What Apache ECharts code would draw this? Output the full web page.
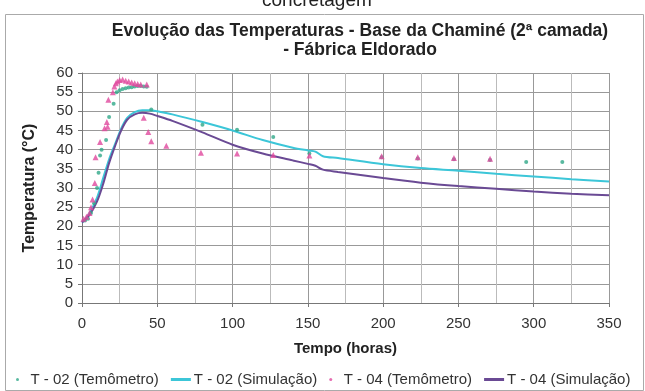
<!DOCTYPE html>
<html>
<head>
<meta charset="utf-8">
<script src="https://cdn.jsdelivr.net/npm/echarts@6/dist/echarts.min.js"></script>
<style>
html, body { margin: 0; padding: 0; background: #fff; }
#main { width: 645px; height: 391px; }
</style>
</head>
<body>
<div id="main"></div>
<script>
// leituras do termômetro e curvas de simulação (horas, °C)
var t02TermHoras = [2, 4, 6, 8, 10, 11, 12, 13, 16, 18, 21, 23, 25, 27, 29, 31, 33, 35, 37, 39, 41, 43, 46, 80, 103, 127, 151, 199, 223, 247, 271, 295, 319];
var t02TermTemp = [21.5, 22, 23.5, 26, 30, 34, 38.5, 40, 42.5, 48.5, 52, 55, 55.5, 55.8, 56, 56.2, 56.3, 56.5, 56.6, 56.6, 56.5, 56.4, 50.5, 46.5, 45.2, 43.3, 39, 38, 37.7, 37.5, 37.3, 36.8, 36.8];

var t04TermHoras = [1, 3, 5, 6, 7, 8.5, 9, 12, 15, 16.5, 17, 17.5, 20.5, 21.5, 22.5, 23.5, 25, 27, 29, 31, 33, 35, 37, 39, 41, 43, 44, 46, 56, 79, 103, 127, 151, 199, 223, 247, 271];
var t04TermTemp = [22, 22.5, 23.5, 25, 27, 31.3, 38, 42, 45.6, 47.2, 46, 53, 55, 56.5, 57.3, 57.8, 58.2, 58.3, 58, 57.8, 57.5, 57.3, 57.1, 57, 48.3, 57, 44.6, 42.2, 41, 39.2, 39, 38.6, 38.5, 38.3, 38, 37.8, 37.6];

var simHoras = [0, 5, 10, 14, 18, 22, 26, 30, 35, 40, 45, 50, 60, 80, 100, 120, 140, 150, 155, 160, 170, 200, 225, 250, 275, 300, 325, 350];
var t02SimTemp = [21, 23.5, 27.5, 32.5, 37.5, 41.5, 45.5, 48.3, 49.8, 50.3, 50.3, 50, 49.2, 47.2, 45, 42.5, 40.5, 39.8, 39.5, 38.3, 37.8, 36.2, 35.2, 34.5, 33.7, 33, 32.3, 31.7];
var t04SimTemp = [21, 23, 26.5, 31, 36.5, 41, 45, 47.8, 49.2, 49.6, 49.4, 48.8, 47.5, 44.5, 41.3, 39, 37.2, 36.3, 35.8, 34.8, 34.2, 32.6, 31.4, 30.5, 29.8, 29.1, 28.5, 28.1];

function pares(xs, ys) {
  return xs.map(function (x, i) { return [x, ys[i]]; });
}

var myChart = echarts.init(document.getElementById('main'));

var fonte = 'Liberation Sans, Arial, sans-serif';

var option = {
  backgroundColor: '#fff',
  animation: false,
  title: {
    text: 'Evolução das Temperaturas - Base da Chaminé (2ª camada)\n- Fábrica Eldorado',
    left: 355,
    top: 17,
    textAlign: 'center',
    textStyle: { fontFamily: fonte, fontSize: 17.5, fontWeight: 'bold', color: '#222', lineHeight: 19 }
  },
  graphic: [
    { type: 'rect', shape: { x: 5.5, y: 14.5, width: 638, height: 376 }, style: { fill: 'none', stroke: '#aaa', lineWidth: 1 } },
    { type: 'text', left: 262, top: -9, style: { text: 'concretagem', font: '19px ' + fonte, fill: '#222' } }
  ],
  legend: {
    top: 372,
    left: 16,
    width: 629,
    padding: 0,
    itemWidth: 20,
    itemHeight: 3,
    itemGap: 12,
    textStyle: { fontFamily: fonte, fontSize: 15, color: '#333', padding: [0, 0, 0, -2] },
    data: [
      { name: 'T - 02 (Temômetro)', icon: 'circle' },
      { name: 'T - 02 (Simulação)', icon: 'rect' },
      { name: 'T - 04 (Temômetro)', icon: 'circle' },
      { name: 'T - 04 (Simulação)', icon: 'rect' }
    ]
  },
  grid: { left: 82, right: 36, top: 73, bottom: 88 },
  xAxis: {
    type: 'value',
    min: 0, max: 350, interval: 50,
    name: 'Tempo (horas)',
    nameLocation: 'middle',
    nameGap: 38,
    nameTextStyle: { fontFamily: fonte, fontSize: 15, fontWeight: 'bold', color: '#222' },
    axisLine: { show: true, lineStyle: { color: '#777' } },
    axisTick: { show: true, length: 4, lineStyle: { color: '#777' } },
    axisLabel: { fontFamily: fonte, fontSize: 15, color: '#333', margin: 13 },
    splitLine: { show: true, lineStyle: { color: '#999' } },
    minorTick: { show: false, splitNumber: 2 },
    minorSplitLine: { show: true, lineStyle: { color: '#bbb' } }
  },
  yAxis: {
    type: 'value',
    min: 0, max: 60, interval: 5,
    name: 'Temperatura (°C)',
    nameLocation: 'middle',
    nameGap: 44,
    nameRotate: 90,
    nameTextStyle: { fontFamily: fonte, fontSize: 16, fontWeight: 'bold', color: '#222' },
    axisLine: { show: true, lineStyle: { color: '#777' } },
    axisTick: { show: true, length: 4, lineStyle: { color: '#777' } },
    axisLabel: { fontFamily: fonte, fontSize: 15, color: '#333', margin: 9 },
    splitLine: { show: true, lineStyle: { color: '#999' } }
  },
  series: [
    {
      name: 'T - 02 (Simulação)',
      type: 'line',
      data: pares(simHoras, t02SimTemp),
      smooth: 0.3,
      symbol: 'none',
      z: 2,
      lineStyle: { color: '#3cc6d8', width: 2 },
      itemStyle: { color: '#3cc6d8' }
    },
    {
      name: 'T - 04 (Simulação)',
      type: 'line',
      data: pares(simHoras, t04SimTemp),
      smooth: 0.3,
      symbol: 'none',
      z: 2,
      lineStyle: { color: '#6a4a94', width: 2 },
      itemStyle: { color: '#6a4a94' }
    },
    {
      name: 'T - 02 (Temômetro)',
      type: 'scatter',
      data: pares(t02TermHoras, t02TermTemp),
      symbol: 'circle',
      symbolSize: 4,
      z: 3,
      itemStyle: { color: '#2fa888' }
    },
    {
      name: 'T - 04 (Temômetro)',
      type: 'scatter',
      data: pares(t04TermHoras, t04TermTemp),
      symbol: 'triangle',
      symbolSize: 6,
      z: 3,
      itemStyle: { color: '#e0489e' }
    }
  ]
};

myChart.setOption(option);
</script>
</body>
</html>
